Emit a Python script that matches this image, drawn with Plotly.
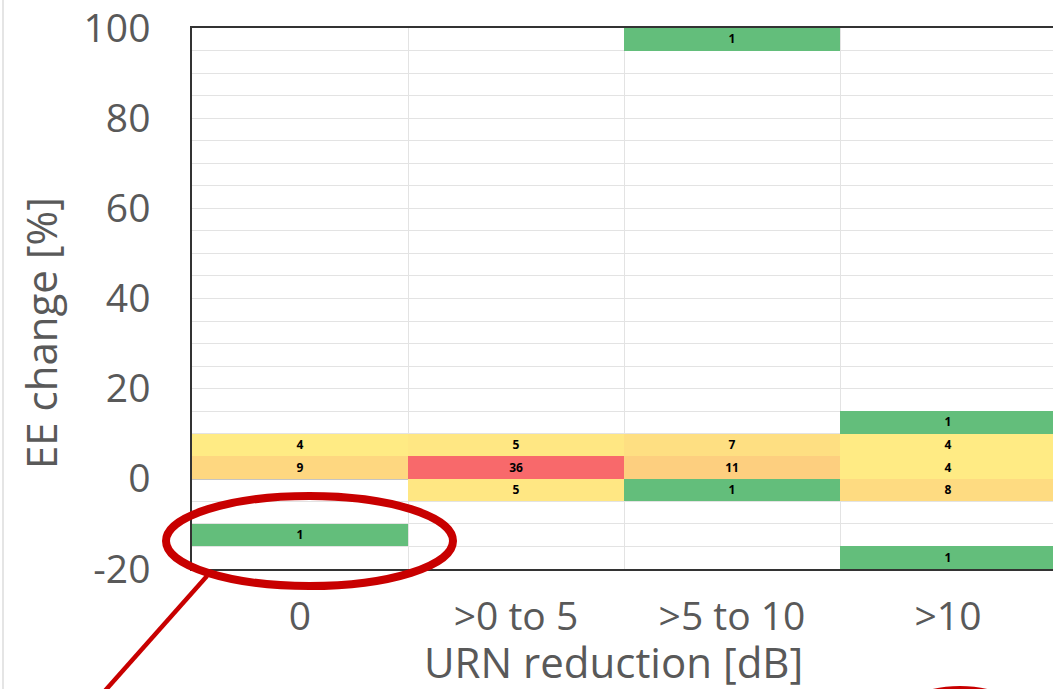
import plotly.graph_objects as go

# Column categories (URN reduction bins) and EE change bins (lower edges, 5 % wide)
urn_bins = ["0", ">0 to 5", ">5 to 10", ">10"]
ee_bin_lower = [-20, -15, -10, -5, 0, 5, 10, 15, 20, 25, 30, 35, 40,
                45, 50, 55, 60, 65, 70, 75, 80, 85, 90, 95]

# Occupied cells: column index, lower edge of EE bin, count
cell_col = [0, 0, 0, 1, 1, 1, 2, 2, 2, 2, 3, 3, 3, 3, 3]
cell_ee = [5, 0, -15, 5, 0, -5, 95, 5, 0, -5, 10, 5, 0, -5, -20]
cell_count = [4, 9, 1, 5, 36, 5, 1, 7, 11, 1, 1, 4, 4, 8, 1]

y_ticks = [-20, 0, 20, 40, 60, 80, 100]

W, H = 1053, 689
L, R, T, B = 192, 0, 28, 120


def px_x(px):
    return (px - L) / (W - L - R)


def px_y(py):
    return (H - B - py) / (H - T - B)


# build the heatmap grid from the sparse cell lists
z = [[None] * len(urn_bins) for _ in ee_bin_lower]
txt = [[""] * len(urn_bins) for _ in ee_bin_lower]
for c, e, n in zip(cell_col, cell_ee, cell_count):
    r = ee_bin_lower.index(e)
    z[r][c] = n
    txt[r][c] = str(n)

zmin, zmax = min(cell_count), max(cell_count)
mid = 4
colorscale = [
    [0.0, "#63BE7B"],
    [(mid - zmin) / (zmax - zmin), "#FFEB84"],
    [1.0, "#F8696B"],
]

fig = go.Figure()
fig.add_trace(go.Heatmap(
    x=list(range(len(urn_bins))),
    y=[e + 2.5 for e in ee_bin_lower],
    z=z,
    text=txt,
    texttemplate="<b>%{text}</b>",
    textfont={"family": "Open Sans", "size": 12, "color": "#000000"},
    colorscale=colorscale,
    zmin=zmin, zmax=zmax,
    showscale=False,
    hoverinfo="skip",
))

grid = "#E3E3E3"
tick_font = {"family": "Open Sans", "size": 39, "color": "#595959"}
title_font = {"family": "Open Sans", "size": 42, "color": "#595959"}

fig.update_xaxes(
    range=[-0.5, 3.5 - 3 / 216],
    tickvals=list(range(len(urn_bins))),
    ticktext=urn_bins,
    tickfont=tick_font,
    ticks="",
    ticklabelstandoff=12,
    ticklabeloverflow="allow",
    showgrid=False,
    minor={"tickvals": [0.5, 1.5, 2.5], "showgrid": True, "gridcolor": grid,
           "gridwidth": 1, "ticks": ""},
    showline=True, mirror=True, linecolor="#333333", linewidth=2,
    zeroline=False,
    automargin=False,
)
fig.update_yaxes(
    range=[-20, 100],
    tickvals=y_ticks,
    ticktext=[str(v) for v in y_ticks],
    tickfont=tick_font,
    ticks="",
    ticklabelstandoff=32,
    ticklabeloverflow="allow",
    showgrid=True, gridcolor=grid, gridwidth=1,
    minor={"dtick": 5, "showgrid": True, "gridcolor": grid, "gridwidth": 1,
           "ticks": ""},
    showline=True, linecolor="#333333", linewidth=1.5,
    zeroline=True, zerolinecolor="#C4C4C4", zerolinewidth=1.5,
    automargin=False,
)

red = "#C80000"
shapes = [
    # faint frame line at the left edge
    {"type": "line", "xref": "paper", "yref": "paper",
     "x0": px_x(3), "x1": px_x(3), "y0": px_y(0), "y1": px_y(H),
     "line": {"color": "#DDDDDD", "width": 1.5}},
    # highlight ellipse round the single -15 to -10 case
    {"type": "circle", "xref": "paper", "yref": "paper",
     "x0": px_x(166), "x1": px_x(453), "y0": px_y(586), "y1": px_y(496),
     "line": {"color": red, "width": 8}},
    {"type": "line", "xref": "paper", "yref": "paper",
     "x0": px_x(207), "y0": px_y(576), "x1": px_x(95), "y1": px_y(702),
     "line": {"color": red, "width": 4.5}},
    # second ellipse, mostly cropped off the bottom
    {"type": "circle", "xref": "paper", "yref": "paper",
     "x0": px_x(885), "x1": px_x(1035), "y0": px_y(785), "y1": px_y(690),
     "line": {"color": red, "width": 8}},
]

annotations = [
    {"text": "URN reduction [dB]", "xref": "paper", "yref": "paper",
     "x": px_x(613), "y": px_y(661), "xanchor": "center", "yanchor": "middle",
     "showarrow": False, "font": title_font},
    {"text": "EE change [%]", "xref": "paper", "yref": "paper",
     "x": px_x(40), "y": px_y(333), "xanchor": "center", "yanchor": "middle",
     "textangle": -90, "showarrow": False, "font": title_font},
]

fig.update_layout(
    width=W, height=H,
    margin={"l": L, "r": R, "t": T, "b": B},
    plot_bgcolor="#FFFFFF", paper_bgcolor="#FFFFFF",
    shapes=shapes,
    annotations=annotations,
    showlegend=False,
)

fig.write_html("out.html", config={"displayModeBar": False},
               post_script="document.body.style.margin='0';")
